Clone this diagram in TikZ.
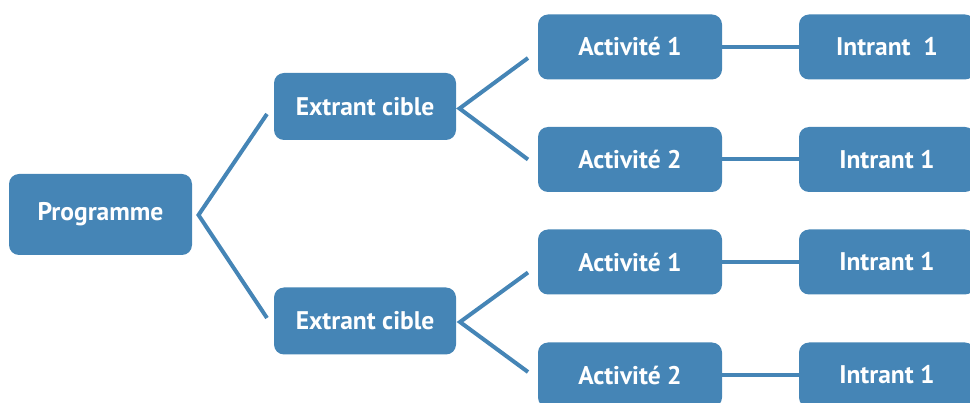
\documentclass[tikz,border=0pt]{standalone}
\usepackage{fontspec}
\setmainfont{PT Sans}
\definecolor{boxblue}{HTML}{4585B6}
\begin{document}
\begin{tikzpicture}[x=1pt,y=-1pt,
  box/.style={rounded corners=10pt, fill=boxblue, draw=none, text=white,
    font=\bfseries\fontsize{25.5}{30}\selectfont, inner sep=0pt, anchor=center},
  prog/.style={box, minimum width=183pt, minimum height=81pt},
  ext/.style={box, minimum width=182pt, minimum height=67pt},
  act/.style={box, minimum width=184pt, minimum height=65pt},
  intr/.style={box, minimum width=176pt, minimum height=65pt},
  link/.style={draw=boxblue, line width=4pt, line join=miter}]
\clip (0,0) rectangle (970,403);
\node[prog] (p) at (100.5,214.5) {Programme};
\node[ext] (e1) at (365,106.5) {Extrant cible};
\node[ext] (e2) at (365,321) {Extrant cible};
\node[act] (a1) at (630,47) {Activité 1};
\node[act] (a2) at (630,159.5) {Activité 2};
\node[act] (a3) at (630,262) {Activité 1};
\node[act] (a4) at (630,375) {Activité 2};
\node[intr] (i1) at (887,47) {Intrant\ \ 1};
\node[intr] (i2) at (887,159.5) {Intrant 1};
\node[intr] (i3) at (887,262) {Intrant 1};
\node[intr] (i4) at (887,375) {Intrant 1};
% brackets
\coordinate (v0) at (198.5,215);
\coordinate (v0a) at (267,114);
\coordinate (v0b) at (267,318);
\coordinate (v1) at (459.5,108.5);
\coordinate (v1a) at (528,58);
\coordinate (v1b) at (528,159.5);
\coordinate (v2) at (460,322);
\coordinate (v2a) at (528,272.5);
\coordinate (v2b) at (528,372);
\draw[link] (v0a) -- (v0) -- (v0b);
\draw[link] (v1a) -- (v1) -- (v1b);
\draw[link] (v2a) -- (v2) -- (v2b);
\draw[link] (a1.east) -- (i1.west);
\draw[link] (a2.east) -- (i2.west);
\draw[link] (a3.east) -- (i3.west);
\draw[link] (a4.east) -- (i4.west);
\end{tikzpicture}
\end{document}
